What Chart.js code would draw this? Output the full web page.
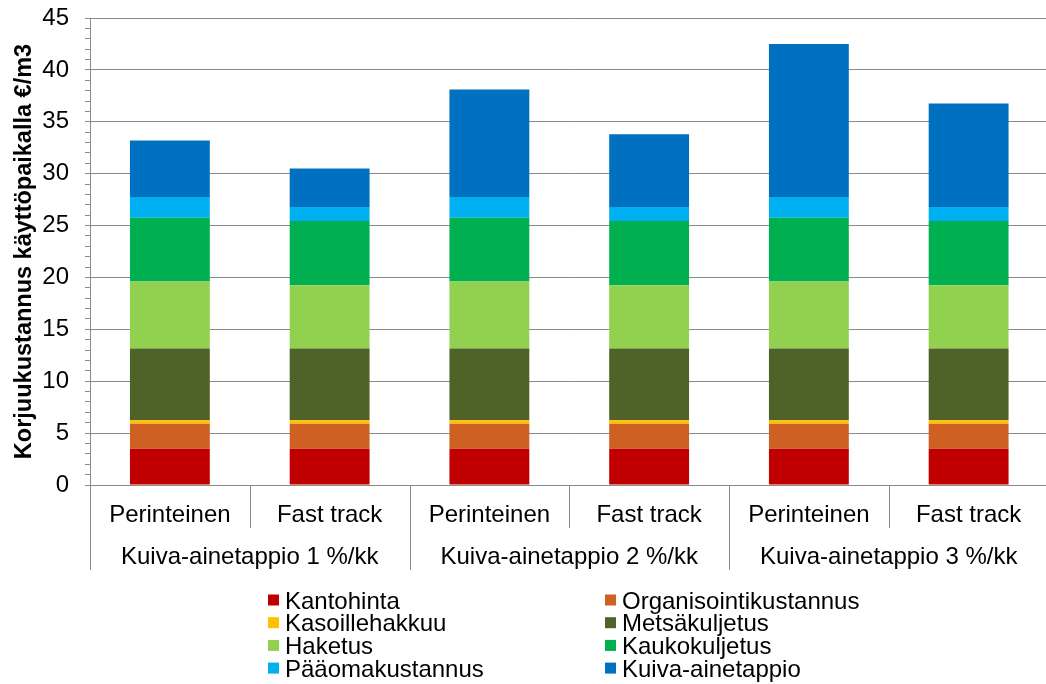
<!DOCTYPE html>
<html>
<head>
<meta charset="utf-8">
<script src="https://cdn.jsdelivr.net/npm/chart.js@4.4.1/dist/chart.umd.min.js"></script>
<style>
  html, body { margin: 0; padding: 0; background: #ffffff; overflow: hidden; }
  #wrap { position: relative; width: 1050px; height: 684px; }
</style>
</head>
<body>
<div id="wrap"><canvas id="chart" width="1050" height="684"></canvas></div>
<script>
// Harvesting cost at the place of use (€/m3), by cost component
const categories = ['Perinteinen', 'Fast track', 'Perinteinen', 'Fast track', 'Perinteinen', 'Fast track'];
const groups = ['Kuiva-ainetappio 1 %/kk', 'Kuiva-ainetappio 2 %/kk', 'Kuiva-ainetappio 3 %/kk'];

const kantohinta        = [3.5, 3.5, 3.5, 3.5, 3.5, 3.5];
const organisointi      = [2.4, 2.4, 2.4, 2.4, 2.4, 2.4];
const kasoillehakkuu    = [0.35, 0.35, 0.35, 0.35, 0.35, 0.35];
const metsakuljetus     = [6.9, 6.9, 6.9, 6.9, 6.9, 6.9];
const haketus           = [6.45, 6.1, 6.45, 6.1, 6.45, 6.1];
const kaukokuljetus     = [6.15, 6.2, 6.15, 6.2, 6.15, 6.2];
const paaomakustannus   = [2.0, 1.35, 2.0, 1.35, 2.0, 1.35];
const kuivaAinetappio   = [5.45, 3.7, 10.35, 7.0, 14.75, 9.95];

const seriesNames = ['Kantohinta', 'Organisointikustannus', 'Kasoillehakkuu', 'Metsäkuljetus',
                     'Haketus', 'Kaukokuljetus', 'Pääomakustannus', 'Kuiva-ainetappio'];
const seriesValues = [kantohinta, organisointi, kasoillehakkuu, metsakuljetus,
                      haketus, kaukokuljetus, paaomakustannus, kuivaAinetappio];
const seriesColors = ['#C00000', '#CE6023', '#FFC000', '#4F6228',
                      '#92D050', '#00B050', '#00B0F0', '#0070C0'];

const yTitle = 'Korjuukustannus käyttöpaikalla €/m3';
const FONT = '"Liberation Sans", Arial, sans-serif';
const AXIS_GREY = '#8a8a8a';

// Two-level category axis, y-axis title and a two-column legend
const decorations = {
  id: 'decorations',
  afterDraw(chart) {
    const ctx = chart.ctx;
    const area = chart.chartArea;
    const xs = chart.scales.x;
    const n = categories.length;

    // boundaries between categories
    const bounds = [area.left];
    for (let i = 0; i < n - 1; i++) {
      bounds.push((xs.getPixelForValue(i) + xs.getPixelForValue(i + 1)) / 2);
    }
    bounds.push(area.right);

    ctx.save();
    ctx.strokeStyle = AXIS_GREY;
    ctx.lineWidth = 1;
    bounds.forEach((bx, i) => {
      const x = Math.round(bx) + 0.5;
      const isGroupEdge = i % 2 === 0;
      ctx.beginPath();
      ctx.moveTo(x, area.bottom);
      ctx.lineTo(x, isGroupEdge ? area.bottom + 85 : area.bottom + 43);
      ctx.stroke();
    });

    // category labels
    ctx.fillStyle = '#000000';
    ctx.font = '24px ' + FONT;
    ctx.textAlign = 'center';
    ctx.textBaseline = 'alphabetic';
    categories.forEach((label, i) => {
      ctx.fillText(label, xs.getPixelForValue(i), area.bottom + 36.5);
    });

    // group labels
    groups.forEach((label, g) => {
      const cx = (bounds[g * 2] + bounds[g * 2 + 2]) / 2;
      ctx.fillText(label, cx, area.bottom + 78.5);
    });

    // y-axis title
    ctx.save();
    ctx.font = 'bold 23.5px ' + FONT;
    ctx.translate(30.5, (area.top + area.bottom) / 2);
    ctx.rotate(-Math.PI / 2);
    ctx.textAlign = 'center';
    ctx.textBaseline = 'alphabetic';
    ctx.fillText(yTitle, 0, 0);
    ctx.restore();

    // legend: two columns, items filled row by row
    const colX = [268, 605];
    const rowY = [600, 622.7, 645.4, 668.1];
    ctx.font = '24px ' + FONT;
    ctx.textAlign = 'left';
    ctx.textBaseline = 'alphabetic';
    seriesNames.forEach((name, i) => {
      const col = i % 2;
      const row = Math.floor(i / 2);
      const bx = colX[col];
      const cy = rowY[row];
      ctx.fillStyle = seriesColors[i];
      ctx.fillRect(bx, cy - 5.5, 11, 11);
      ctx.fillStyle = '#000000';
      ctx.fillText(name, bx + 17, cy + 8.5);
    });
    ctx.restore();
  }
};

const datasets = seriesNames.map((name, i) => ({
  label: name,
  data: seriesValues[i],
  backgroundColor: seriesColors[i],
  borderWidth: 0,
  barPercentage: 0.5,
  categoryPercentage: 1.0
}));

new Chart(document.getElementById('chart'), {
  type: 'bar',
  data: { labels: categories, datasets },
  options: {
    responsive: false,
    animation: false,
    devicePixelRatio: 1,
    layout: { padding: { left: 0, right: 1.5, top: 18, bottom: 199 } },
    plugins: {
      legend: { display: false },
      tooltip: { enabled: false }
    },
    scales: {
      x: {
        stacked: true,
        grid: { display: false },
        border: { display: true, color: AXIS_GREY, width: 1 },
        ticks: { display: false },
        afterFit: s => { s.height = 0; s.paddingLeft = 0; s.paddingRight = 0; }
      },
      y: {
        stacked: true,
        min: 0,
        max: 45,
        ticks: {
          stepSize: 1,
          autoSkip: false,
          padding: 16,
          color: '#000000',
          font: { family: FONT, size: 24 },
          callback: v => (v % 5 === 0 ? String(v) : '')
        },
        grid: {
          color: c => (c.tick && c.tick.value % 5 === 0 ? AXIS_GREY : 'rgba(0,0,0,0)'),
          tickColor: AXIS_GREY,
          tickLength: 5,
          lineWidth: 1
        },
        border: { display: true, color: AXIS_GREY, width: 1 },
        afterFit: s => { s.width = 90; s.paddingTop = 0; s.paddingBottom = 0; }
      }
    }
  },
  plugins: [decorations]
});
</script>
</body>
</html>
